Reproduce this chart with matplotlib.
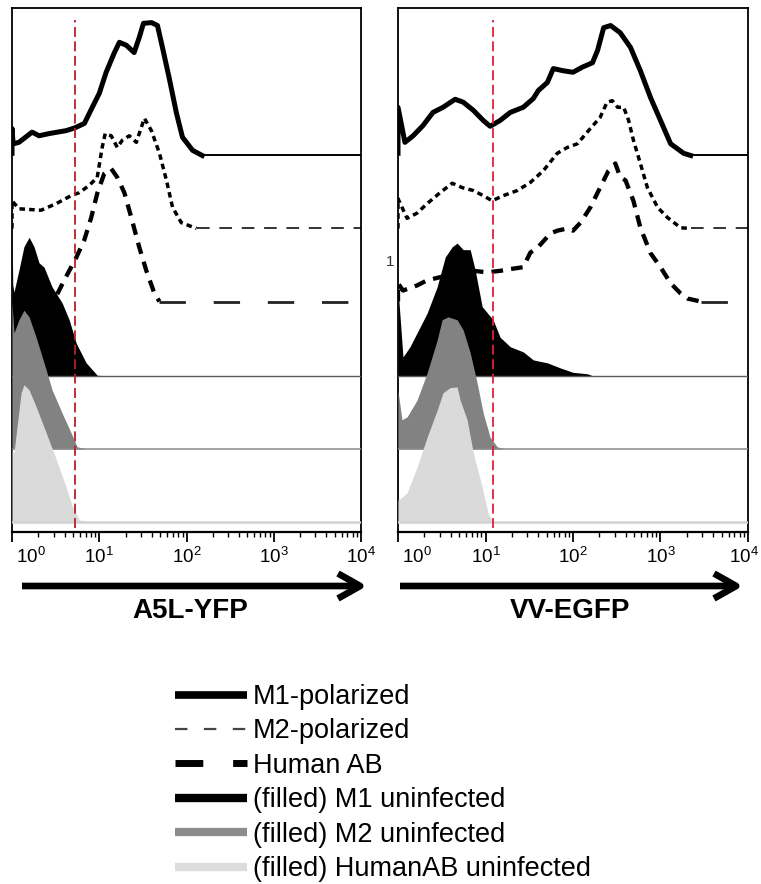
import matplotlib
matplotlib.use("Agg")
import matplotlib.pyplot as plt
from matplotlib.lines import Line2D
from matplotlib.patches import FancyArrowPatch, ArrowStyle
from matplotlib.transforms import ScaledTranslation
from matplotlib.ticker import FixedLocator, FixedFormatter, LogLocator, NullFormatter

plt.rcParams['font.family'] = ['Liberation Sans', 'DejaVu Sans']
plt.rcParams['mathtext.fontset'] = 'custom'
plt.rcParams['mathtext.rm'] = 'Liberation Sans'
plt.rcParams['mathtext.it'] = 'Liberation Sans:italic'
plt.rcParams['mathtext.bf'] = 'Liberation Sans:bold'

# ---------------- data ----------------
panel_titles = ["A5L-YFP", "VV-EGFP"]
tick_values = [1, 10, 100, 1000, 10000]
tick_labels = [r"$\mathregular{10^{0}}$", r"$\mathregular{10^{1}}$", r"$\mathregular{10^{2}}$",
               r"$\mathregular{10^{3}}$", r"$\mathregular{10^{4}}$"]
gate_values = [5.3, 12.2]

series_names = ["M1-polarized", "M2-polarized", "Human AB",
                "(filled) M1 uninfected", "(filled) M2 uninfected", "(filled) HumanAB uninfected"]
# vertical offsets of each histogram (stacked display)
offsets = [5.02, 4.02, 3.02, 2.0, 1.0, 0.0]

# ---- A5L-YFP panel ----
a5l_m1_x = [1.0, 1.0, 1.03, 1.20, 1.70, 2.04, 2.66, 4.17, 5.30, 6.76, 8.32, 10.0, 12.0, 14.8, 17.0,
            20.4, 25.1, 28.8, 32.1, 39.8, 46.5, 53.0, 63.1, 76.7, 89.9, 117.5, 151.4]
a5l_m1_y = [0.03, 0.37, 0.16, 0.18, 0.32, 0.27, 0.30, 0.34, 0.38, 0.44, 0.66, 0.85, 1.14, 1.40, 1.55,
            1.51, 1.41, 1.62, 1.81, 1.82, 1.78, 1.48, 1.07, 0.58, 0.25, 0.07, 0.0]

a5l_m2_x = [1.0, 1.0, 1.20, 2.15, 3.21, 4.76, 5.89, 7.67, 9.48, 10.8, 11.7, 13.7, 16.1, 18.4, 22.1,
            26.6, 32.9, 39.6, 49.0, 58.9, 69.2, 87.1, 130.3]
a5l_m2_y = [0.0, 0.38, 0.27, 0.25, 0.34, 0.45, 0.49, 0.59, 0.70, 1.11, 1.30, 1.27, 1.11, 1.21, 1.27,
            1.18, 1.51, 1.34, 1.03, 0.66, 0.29, 0.08, 0.0]

a5l_hab_x = [3.3, 3.96, 5.44, 6.73, 8.09, 9.48, 11.4, 13.7, 16.1, 19.4, 23.3, 28.8, 34.7,
             42.9, 49.0]
a5l_hab_y = [0.10, 0.29, 0.60, 0.84, 1.15, 1.48, 1.75, 1.82, 1.70, 1.49, 1.15, 0.74, 0.42,
             0.11, 0.0]

a5l_m1u_x = [1.0, 1.0, 1.02, 1.054, 1.20, 1.37, 1.57, 1.79, 2.04, 2.33, 2.88, 3.76, 4.52, 5.44, 7.08,
             9.48, 13.0]
a5l_m1u_y = [0.0, 2.10, 1.25, 1.15, 1.45, 1.77, 1.90, 1.77, 1.55, 1.49, 1.22, 1.00, 0.77, 0.45, 0.18,
             0.01, 0.0]

a5l_m2u_x = [1.0, 1.0, 1.054, 1.20, 1.37, 1.57, 1.89, 2.33, 2.88, 3.76, 4.76, 5.58, 7.08]
a5l_m2u_y = [0.0, 2.00, 1.59, 1.77, 1.90, 1.81, 1.53, 1.18, 0.81, 0.49, 0.22, 0.03, 0.0]

a5l_habu_x = [1.0, 1.054, 1.27, 1.37, 1.57, 1.89, 2.45, 3.21, 4.17, 4.90, 5.89, 7.67]
a5l_habu_y = [0.99, 0.95, 1.77, 1.88, 1.81, 1.58, 1.23, 0.86, 0.48, 0.22, 0.03, 0.0]

# ---- VV-EGFP panel ----
vv_m1_x = [1.0, 1.0, 1.20, 1.49, 1.93, 2.51, 3.27, 4.50, 5.56, 7.24, 9.42, 11.3, 14.7, 19.2, 27.0,
           35.2, 40.2, 50.9, 59.6, 77.6, 100, 128, 167, 191, 224, 269, 347, 454, 589, 771, 1000,
           1306, 1837, 2213]
vv_m1_y = [0.03, 0.66, 0.18, 0.27, 0.41, 0.59, 0.66, 0.77, 0.73, 0.62, 0.48, 0.40, 0.48, 0.59, 0.66,
           0.78, 0.89, 1.00, 1.19, 1.16, 1.14, 1.21, 1.27, 1.44, 1.75, 1.78, 1.68, 1.48, 1.16, 0.79, 0.48,
           0.16, 0.03, 0.0]

vv_m2_x = [1.0, 1.0, 1.27, 1.65, 2.15, 3.02, 4.17, 5.41, 7.24, 9.42, 11.9, 16.0, 23.1, 32.5, 45.7,
           66.1, 86.1, 112, 158, 204, 245, 282, 324, 380, 432, 490, 589, 708, 925, 1202, 1698, 2213]
vv_m2_y = [0.0, 0.41, 0.14, 0.21, 0.34, 0.49, 0.62, 0.56, 0.52, 0.45, 0.38, 0.45, 0.52, 0.63, 0.79,
           1.03, 1.11, 1.16, 1.37, 1.52, 1.73, 1.75, 1.66, 1.66, 1.48, 1.21, 0.89, 0.56, 0.29, 0.15,
           0.01, 0.0]

vv_hab_x = [1.0, 1.0, 1.14, 1.65, 2.15, 3.47, 5.13, 7.24, 10.5, 14.7, 20.7, 27.0, 32.5, 38.9, 55.0,
            66.1, 86.1, 100, 122, 158, 204, 254, 305, 347, 398, 490, 589, 771, 1000, 1306, 1698,
            2042, 2884]
vv_hab_y = [0.0, 0.25, 0.15, 0.22, 0.29, 0.35, 0.38, 0.42, 0.40, 0.42, 0.45, 0.47, 0.67, 0.73, 0.93,
            0.97, 1.00, 0.97, 1.08, 1.29, 1.56, 1.79, 1.89, 1.70, 1.66, 1.38, 1.01, 0.66, 0.47, 0.25,
            0.11, 0.04, 0.0]

vv_m1u_x = [1.0, 1.0, 1.14, 1.37, 1.65, 2.15, 2.80, 3.47, 4.17, 4.74, 5.56, 6.68, 7.62, 9.16, 12.2,
            14.7, 19.2, 27.0, 35.2, 50.9, 71.8, 100, 146, 171]
vv_m1u_y = [0.0, 1.20, 0.26, 0.40, 0.59, 0.86, 1.22, 1.63, 1.77, 1.82, 1.73, 1.73, 1.45, 0.95, 0.77,
            0.53, 0.40, 0.33, 0.22, 0.18, 0.11, 0.05, 0.03, 0.0]

vv_m2u_x = [1.0, 1.0, 1.11, 1.27, 1.65, 2.15, 2.80, 3.19, 3.74, 4.74, 5.56, 6.68, 8.04, 9.42, 11.3,
            13.6, 16.8]
vv_m2u_y = [0.0, 0.80, 0.40, 0.44, 0.67, 1.04, 1.49, 1.77, 1.81, 1.77, 1.63, 1.32, 0.90, 0.49, 0.16,
            0.03, 0.0]

vv_habu_x = [1.0, 1.11, 1.27, 1.65, 2.15, 2.80, 3.27, 3.94, 4.74, 5.13, 6.17, 7.24, 9.16, 10.7, 12.2]
vv_habu_y = [0.30, 0.34, 0.40, 0.75, 1.16, 1.53, 1.77, 1.84, 1.85, 1.67, 1.40, 0.95, 0.48, 0.12, 0.0]

panels = [
    [(a5l_m1_x, a5l_m1_y), (a5l_m2_x, a5l_m2_y), (a5l_hab_x, a5l_hab_y),
     (a5l_m1u_x, a5l_m1u_y), (a5l_m2u_x, a5l_m2u_y), (a5l_habu_x, a5l_habu_y)],
    [(vv_m1_x, vv_m1_y), (vv_m2_x, vv_m2_y), (vv_hab_x, vv_hab_y),
     (vv_m1u_x, vv_m1u_y), (vv_m2u_x, vv_m2u_y), (vv_habu_x, vv_habu_y)],
]

XMIN, XMAX = 1.0, 1e4
fill_colors = ["#000000", "#828282", "#dadada"]
base_colors = ["#5a5a5a", "#8a8a8a", "#d2d2d2"]
base_lw = [1.0, 1.1, 1.8]
gate_colors = ["#b8202a", "#e0203a"]

# ---------------- figure ----------------
W, H = 761, 884
fig = plt.figure(figsize=(W / 100, H / 100), dpi=100)

axes_px = [(12, 8, 349, 524), (398, 8, 350, 524)]
arrow_px = [(22, 367), (400, 743)]
title_x = [190, 570]

for i, (ax_l, ax_t, ax_w, ax_h) in enumerate(axes_px):
    ax = fig.add_axes([ax_l / W, 1 - (ax_t + ax_h) / H, ax_w / W, ax_h / H])
    ax.set_xscale('log')
    ax.set_xlim(XMIN, XMAX)
    ax.set_ylim(-0.137, 7.04)
    ax.set_yticks([])
    for s in ['left', 'right', 'top']:
        ax.spines[s].set_linewidth(1.3)
    ax.spines['bottom'].set_linewidth(1.6)

    ax.xaxis.set_major_locator(FixedLocator(tick_values))
    ax.xaxis.set_major_formatter(FixedFormatter(tick_labels))
    ax.xaxis.set_minor_locator(LogLocator(base=10, subs=range(2, 10), numticks=20))
    ax.xaxis.set_minor_formatter(NullFormatter())
    ax.tick_params(axis='x', which='major', direction='out', length=7, width=1.3,
                   labelsize=13.5, pad=3.5)
    ax.tick_params(axis='x', which='minor', direction='out', length=3.5, width=1.0)
    labels = ax.get_xticklabels()
    labels[0].set_horizontalalignment('left')
    labels[0].set_transform(labels[0].get_transform() +
                            ScaledTranslation(4 / 100, 0, fig.dpi_scale_trans))
    if i == 1:
        labels[-1].set_horizontalalignment('right')
        labels[-1].set_transform(labels[-1].get_transform() +
                                 ScaledTranslation(11 / 100, 0, fig.dpi_scale_trans))

    data = panels[i]
    # open (line) histograms
    (mx, my), (m2x, m2y), (hx, hy) = data[0], data[1], data[2]
    b = offsets[0]
    ax.plot(mx, [b + v for v in my], color='black', lw=3.6, solid_joinstyle='round', zorder=2)
    ax.plot([mx[-1], XMAX], [b, b], color='black', lw=1.4, zorder=2)
    b = offsets[1]
    ax.plot(m2x, [b + v for v in m2y], color='black', lw=2.5, dashes=(1.6, 1.2), zorder=2)
    ax.plot([m2x[-1], XMAX], [b, b], color='#333333', lw=1.4, dashes=(6.5, 5.0), zorder=2)
    b = offsets[2]
    ax.plot(hx, [b + v for v in hy], color='black', lw=3.1, dashes=(2.7, 1.9), zorder=2)
    ax.plot([hx[-1], XMAX], [b, b], color='#222222', lw=2.0, dashes=(9.5, 10.0), zorder=2)

    # filled histograms
    for k in range(3):
        fx, fy = data[3 + k]
        b = offsets[3 + k]
        ax.fill_between(fx, b, [b + v for v in fy], color=fill_colors[k], lw=0, zorder=3 + k)
        ax.axhline(b, color=base_colors[k], lw=base_lw[k], zorder=3 + k)

    ax.axvline(gate_values[i], ymin=0.008, ymax=0.977, color=gate_colors[i], lw=1.3,
               dashes=(5.5, 2.5), zorder=10)

    # arrow below axis
    x0, x1 = arrow_px[i]
    ya = 1 - 586 / H
    arr = FancyArrowPatch((x0 / W, ya), (x1 / W, ya), transform=fig.transFigure,
                          arrowstyle=ArrowStyle('->', head_length=1.6, head_width=0.9),
                          mutation_scale=10, lw=4.8, color='black',
                          joinstyle='round', capstyle='butt', shrinkA=0, shrinkB=0)
    fig.add_artist(arr)
    fig.text(title_x[i] / W, 1 - 611 / H, panel_titles[i], ha='center', va='center',
             fontsize=20, fontweight='bold')

# stray mark between panels
fig.text(390 / W, 1 - 262 / H, "1", ha='center', va='center', fontsize=11, color='#333333')

# ---------------- legend ----------------
handles = [
    Line2D([], [], color='black', lw=5.5),
    Line2D([], [], color='#444444', lw=1.6, dashes=(5.6, 7.4)),
    Line2D([], [], color='black', lw=5.0, dashes=(4.0, 4.3)),
    Line2D([], [], color='black', lw=6.0, solid_capstyle='butt'),
    Line2D([], [], color='#8c8c8c', lw=6.0, solid_capstyle='butt'),
    Line2D([], [], color='#dcdcdc', lw=6.0, solid_capstyle='butt'),
]
for h in handles[:3]:
    h.set_solid_capstyle('butt')
    h.set_dash_capstyle('butt')
fig.legend(handles, series_names, loc='upper left', bbox_to_anchor=(175 / W, 1 - 684 / H),
           frameon=False, fontsize=19.5, handlelength=2.65, handletextpad=0.22,
           labelspacing=0.31, borderpad=0, borderaxespad=0)

fig.savefig("out.png", dpi=100)
